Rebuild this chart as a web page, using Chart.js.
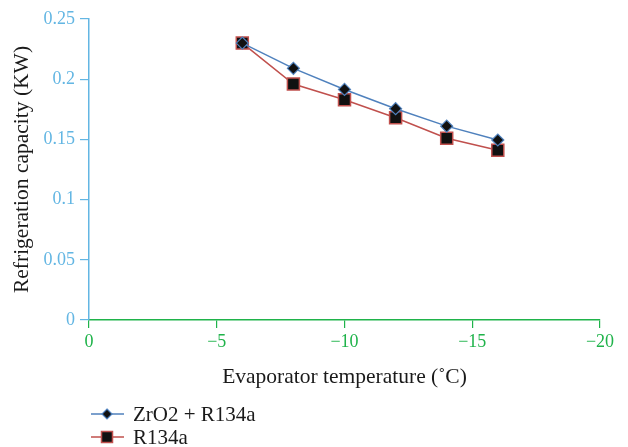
<!DOCTYPE html>
<html>
<head>
<meta charset="utf-8">
<script src="https://cdn.jsdelivr.net/npm/chart.js@4.4.1/dist/chart.umd.min.js"></script>
<style>
  html, body { margin: 0; padding: 0; background: #fff; }
  #wrap { width: 628px; height: 447px; }
</style>
</head>
<body>
<div id="wrap"><canvas id="myChart" width="628" height="447"></canvas></div>
<script>
// evaporator temperature (°C)
const temps = [-6, -8, -10, -12, -14, -16];
const zro2Values = [0.230, 0.209, 0.1915, 0.1755, 0.161, 0.1495];
const r134aValues = [0.230, 0.196, 0.183, 0.168, 0.151, 0.141];
const seriesNames = ['ZrO2 + R134a', 'R134a'];

const blueAxis = '#63b6e3';
const greenAxis = '#1fb34a';
const serif = "'Liberation Serif', 'DejaVu Serif', serif";

function toPoints(values) {
    return temps.map((t, i) => ({ x: t, y: values[i] }));
}

// legend underneath the plot: short line with the marker on it
const lineLegend = {
    id: 'lineLegend',
    afterDraw(chart) {
        const ctx = chart.ctx;
        const rows = [414, 437];
        chart.data.datasets.forEach((ds, i) => {
            const y = rows[i];
            ctx.save();
            ctx.strokeStyle = ds.borderColor;
            ctx.lineWidth = ds.borderWidth;
            ctx.beginPath();
            ctx.moveTo(91, y);
            ctx.lineTo(124, y);
            ctx.stroke();
            ctx.fillStyle = ds.pointBackgroundColor;
            ctx.strokeStyle = ds.pointBorderColor;
            ctx.lineWidth = ds.pointBorderWidth;
            ctx.beginPath();
            if (ds.pointStyle === 'rectRot') {
                const r = 5;
                ctx.moveTo(107, y - r);
                ctx.lineTo(107 + r, y);
                ctx.lineTo(107, y + r);
                ctx.lineTo(107 - r, y);
                ctx.closePath();
            } else {
                ctx.rect(101.5, y - 5.5, 11, 11);
            }
            ctx.fill();
            ctx.stroke();
            ctx.fillStyle = '#1a1a1a';
            ctx.font = '21px ' + serif;
            ctx.textBaseline = 'middle';
            ctx.fillText(ds.label, 133, y + 1);
            ctx.restore();
        });
    }
};

const ctx = document.getElementById('myChart').getContext('2d');
const chart = new Chart(ctx, {
    type: 'line',
    data: {
        datasets: [{
            label: seriesNames[0],
            data: toPoints(zro2Values),
            borderColor: '#4f81bd',
            borderWidth: 1.5,
            pointStyle: 'rectRot',
            pointRadius: 6,
            pointBackgroundColor: '#111111',
            pointBorderColor: '#4f81bd',
            pointBorderWidth: 1.2,
            tension: 0
        }, {
            label: seriesNames[1],
            data: toPoints(r134aValues),
            borderColor: '#c0504d',
            borderWidth: 1.5,
            pointStyle: 'rect',
            pointRadius: 8.5,
            pointBackgroundColor: '#111111',
            pointBorderColor: '#c0504d',
            pointBorderWidth: 1.5,
            tension: 0
        }]
    },
    options: {
        responsive: false,
        animation: false,
        layout: { padding: { left: 0, right: 28, top: 19, bottom: 57 } },
        plugins: {
            legend: { display: false },
            tooltip: { enabled: false }
        },
        scales: {
            x: {
                type: 'linear',
                min: -20,
                max: 0,
                reverse: true,
                afterFit: scale => { scale.height = 70; },
                ticks: {
                    stepSize: 5,
                    color: greenAxis,
                    font: { family: serif, size: 18 },
                    padding: 3,
                    callback: v => String(v).replace('-', '\u2212')
                },
                grid: { drawOnChartArea: false, drawTicks: true, tickLength: 8, color: greenAxis, lineWidth: 1.2 },
                border: { color: greenAxis, width: 1.5 },
                title: {
                    display: true,
                    text: 'Evaporator temperature (\u02DAC)',
                    color: '#1a1a1a',
                    font: { family: serif, size: 21.5 },
                    padding: { top: 0, bottom: 0 }
                }
            },
            y: {
                min: 0,
                max: 0.25,
                afterFit: scale => { scale.width = 89; },
                ticks: {
                    stepSize: 0.05,
                    color: blueAxis,
                    font: { family: serif, size: 18 },
                    padding: 5,
                    callback: v => String(+v.toFixed(2))
                },
                grid: { drawOnChartArea: false, drawTicks: true, tickLength: 9, color: blueAxis, lineWidth: 1.2 },
                border: { color: blueAxis, width: 1.5 },
                title: {
                    display: true,
                    text: 'Refrigeration capacity (KW)',
                    color: '#1a1a1a',
                    font: { family: serif, size: 21.5 },
                    padding: { top: 9, bottom: 0 }
                }
            }
        }
    },
    plugins: [lineLegend]
});
</script>
</body>
</html>
